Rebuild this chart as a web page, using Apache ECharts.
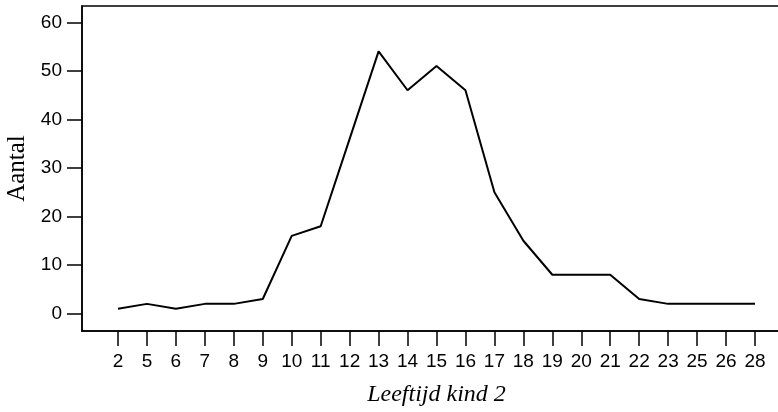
<!DOCTYPE html>
<html>
<head>
<meta charset="utf-8">
<style>
html,body{margin:0;padding:0;background:#fff;}
#chart{width:778px;height:412px;}
</style>
<script src="https://cdn.jsdelivr.net/npm/echarts@6/dist/echarts.min.js"></script>
</head>
<body>
<div id="chart"></div>
<script>
const categories = ['2','5','6','7','8','9','10','11','12','13','14','15','16','17','18','19','20','21','22','23','25','26','28'];
const counts = [1,2,1,2,2,3,16,18,36,54,46,51,46,25,15,8,8,8,3,2,2,2,2];
const yTicks = [0,10,20,30,40,50,60];

const xIdx = categories.map((c, i) => i);
const seriesData = counts.map((v, i) => [i, v]);

const chart = echarts.init(document.getElementById('chart'), null, {renderer: 'canvas'});
chart.setOption({
  animation: false,
  backgroundColor: '#fff',
  grid: {
    left: 82, width: 709, top: 6, height: 325,
    containLabel: false,
    outerBoundsMode: 'none',
    show: true, borderColor: '#000', borderWidth: 1.5, backgroundColor: 'transparent'
  },
  xAxis: {
    type: 'value',
    min: -1.243, max: 23.243,
    name: 'Leeftijd kind 2',
    nameLocation: 'middle',
    nameGap: 52,
    nameTextStyle: {fontFamily: 'Liberation Serif', fontStyle: 'italic', fontSize: 24, color: '#000'},
    axisLine: {show: true, onZero: false, lineStyle: {color: '#000', width: 1.5}},
    axisTick: {show: true, length: 15, lineStyle: {color: '#000', width: 1.5}, customValues: xIdx},
    axisLabel: {
      customValues: xIdx, margin: 21, hideOverlap: false,
      fontFamily: 'Liberation Sans', fontSize: 19, color: '#000',
      formatter: v => categories[Math.round(v)] ?? ''
    },
    splitLine: {show: false}
  },
  yAxis: {
    type: 'value',
    min: -3.59, max: 63.36,
    name: 'Aantal',
    nameLocation: 'middle',
    nameGap: 50,
    nameRotate: 90,
    nameTextStyle: {fontFamily: 'Liberation Serif', fontSize: 25, color: '#000'},
    axisLine: {show: true, onZero: false, lineStyle: {color: '#000', width: 1.5}},
    axisTick: {show: true, length: 15, lineStyle: {color: '#000', width: 1.5}, customValues: yTicks},
    axisLabel: {
      customValues: yTicks, margin: 20,
      fontFamily: 'Liberation Sans', fontSize: 19, color: '#000'
    },
    splitLine: {show: false}
  },
  series: [{
    type: 'line',
    data: seriesData,
    showSymbol: false,
    symbol: 'none',
    lineStyle: {color: '#000', width: 2},
    clip: false
  }]
});
</script>
</body>
</html>
